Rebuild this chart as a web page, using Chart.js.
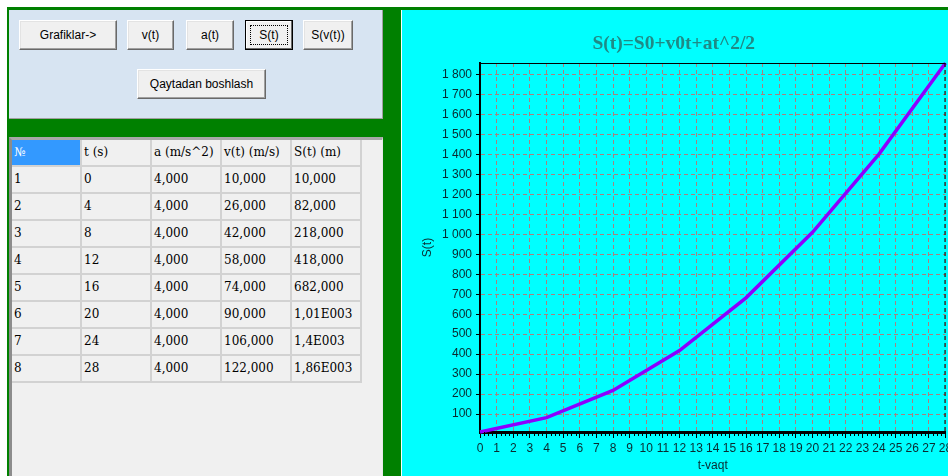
<!DOCTYPE html>
<html>
<head>
<meta charset="utf-8">
<script src="https://cdn.jsdelivr.net/npm/chart.js@4.4.1/dist/chart.umd.min.js"></script>
<style>
    html, body { margin: 0; padding: 0; }
    body {
        width: 948px; height: 476px; overflow: hidden; position: relative;
        background: #fff; font-family: "Liberation Sans", Arial, sans-serif;
    }
    .abs { position: absolute; box-sizing: border-box; }
    #frame { left: 7px; top: 7px; right: 0; bottom: 0; background: #008000; }
    #btnPanel {
        left: 9px; top: 10px; width: 374px; height: 109px; background: #d7e4f2;
        border-right: 1px solid #a0a0a0; border-bottom: 1px solid #a0a0a0;
    }
    .btn {
        position: absolute; box-sizing: border-box; background: #f0f0f0;
        border: 1px solid; border-color: #fff #696969 #696969 #fff;
        box-shadow: inset -1px -1px #a0a0a0, inset 1px 1px #e3e3e3;
        font-size: 12px; color: #000;
        display: flex; align-items: center; justify-content: center;
    }
    .btn.down { border: 1px solid #000; box-shadow: inset -1px -1px #696969, inset 1px 1px #fff; }
    .btn.down::after {
        content: ""; position: absolute; left: 4px; top: 4px; right: 4px; bottom: 4px;
        border: 1px dotted #000;
    }
    #tablePanel {
        left: 9px; top: 137px; width: 374px; height: 339px; background: #f0f0f0;
        border-left: 3px solid #8c8c8c; border-top: 3px solid #a8a8a8; border-right: 1px solid #e8e8e8;
    }
    #grid {
        left: 12px; top: 140px; display: grid;
        grid-template-columns: repeat(5, 68px); grid-auto-rows: 25px; gap: 2px;
        background: #d2d2d2; border-right: 2px solid #d2d2d2; border-bottom: 2px solid #d2d2d2;
    }
    #grid div {
        background: #f0f0f0; font-family: "DejaVu Serif", serif; font-size: 12px; color: #000;
        line-height: 25px; padding-left: 2px; white-space: nowrap; overflow: hidden;
    }
    #grid div.sel { background: #3399ff; color: #fff; }
    #chartLine { left: 401px; top: 10px; width: 1px; height: 466px; background: #fff; }
    #chartBox { left: 402px; top: 10px; width: 546px; height: 466px; background: #00ffff; }
</style>
</head>
<body>
<div class="abs" id="frame"></div>
<div class="abs" id="btnPanel"></div>
<div class="btn" style="left:19px;top:20px;width:98px;height:30px;">Grafiklar-&gt;</div>
<div class="btn" style="left:127px;top:20px;width:47px;height:30px;">v(t)</div>
<div class="btn" style="left:186px;top:20px;width:48px;height:30px;">a(t)</div>
<div class="btn down" style="left:245px;top:20px;width:48px;height:30px;">S(t)</div>
<div class="btn" style="left:303px;top:20px;width:50px;height:30px;">S(v(t))</div>
<div class="btn" style="left:137px;top:69px;width:129px;height:30px;">Qaytadan boshlash</div>

<div class="abs" id="tablePanel"></div>
<div class="abs" id="grid"></div>

<div class="abs" id="chartLine"></div>
<div class="abs" id="chartBox"><canvas id="sChart" width="546" height="466"></canvas></div>

<script>
// Table / chart data
const headers = ['№', 't (s)', 'a (m/s^2)', 'v(t) (m/s)', 'S(t) (m)'];
const tValues = [0, 4, 8, 12, 16, 20, 24, 28];
const aValues = [4, 4, 4, 4, 4, 4, 4, 4];
const vValues = [10, 26, 42, 58, 74, 90, 106, 122];
const sValues = [10, 82, 218, 418, 682, 1010, 1402, 1858];

// number text like in the grid: 10,000 / 1,01E003
const fmt = (x) => {
    if (Math.abs(x) >= 1000) {
        let m = (x / 1000).toPrecision(3).replace(/\.?0+$/, '');
        return m.replace('.', ',') + 'E003';
    }
    return x.toFixed(3).replace('.', ',');
};

const grid = document.getElementById('grid');
const addCell = (text, cls) => {
    const c = document.createElement('div');
    if (cls) c.className = cls;
    c.textContent = text;
    grid.appendChild(c);
};
headers.forEach((h, i) => addCell(h, i === 0 ? 'sel' : ''));
tValues.forEach((t, i) => {
    addCell(String(i + 1));
    addCell(String(t));
    addCell(fmt(aValues[i]));
    addCell(fmt(vValues[i]));
    addCell(fmt(sValues[i]));
});

// Chart
const labelColor = '#0a2a30';
const gridColor = '#a88080';

const frameLines = {
    id: 'frameLines',
    afterDraw: (chart) => {
        const ctx = chart.ctx;
        const a = chart.chartArea;
        const x = chart.scales.x;
        ctx.save();
        ctx.strokeStyle = '#000';
        ctx.lineWidth = 1;
        ctx.beginPath();
        ctx.moveTo(a.left, a.top + 0.5);
        ctx.lineTo(a.right, a.top + 0.5);
        ctx.stroke();
        ctx.setLineDash([4, 3]);
        ctx.beginPath();
        ctx.moveTo(a.right - 0.5, a.top);
        ctx.lineTo(a.right - 0.5, a.bottom);
        ctx.stroke();
        ctx.setLineDash([]);
        // minor ticks under the bottom axis
        for (let v = 0; v < x.max; v += 0.25) {
            if (v % 1 === 0) continue;
            const px = Math.round(x.getPixelForValue(v)) + 0.5;
            ctx.beginPath();
            ctx.moveTo(px, a.bottom);
            ctx.lineTo(px, a.bottom + 4);
            ctx.stroke();
        }
        ctx.restore();
    }
};

new Chart(document.getElementById('sChart'), {
    type: 'line',
    data: {
        datasets: [{
            label: 'S(t)',
            data: tValues.map((t, i) => ({ x: t, y: sValues[i] })),
            borderColor: '#8c00ff',
            borderWidth: 3.5,
            pointRadius: 0,
            tension: 0,
            fill: false,
            clip: 4
        }]
    },
    options: {
        responsive: false,
        animation: false,
        layout: { padding: { left: 0, right: 2.5, top: 0, bottom: 0 } },
        plugins: {
            legend: { display: false },
            tooltip: { enabled: false },
            title: {
                display: true,
                text: 'S(t)=S0+v0t+at^2/2',
                color: '#1f8a86',
                font: { family: 'Liberation Serif', size: 19.5, weight: 'bold' },
                padding: { top: 22, bottom: 7.6 }
            }
        },
        scales: {
            x: {
                type: 'linear',
                min: 0,
                max: 28,
                ticks: {
                    stepSize: 1, autoSkip: false, maxRotation: 0, minRotation: 0,
                    color: labelColor, padding: 3,
                    font: { family: 'Liberation Sans', size: 12 }
                },
                grid: { color: gridColor, lineWidth: 1, tickLength: 6, tickColor: '#000', tickBorderDash: [] },
                border: { color: '#000', width: 3, dash: [4, 3] },
                title: {
                    display: true, text: 't-vaqt', color: labelColor,
                    font: { family: 'Liberation Sans', size: 12 },
                    padding: { top: 0, bottom: 3 }
                },
                afterFit: (s) => { s.height = 44; s.paddingLeft = 0; s.paddingRight = 0; }
            },
            y: {
                type: 'linear',
                min: 10,
                max: 1858,
                ticks: {
                    stepSize: 100, includeBounds: false, color: labelColor, padding: 4,
                    font: { family: 'Liberation Sans', size: 12 },
                    callback: (v) => String(v).replace(/\B(?=(\d{3})+(?!\d))/g, ' ')
                },
                grid: { color: gridColor, lineWidth: 1, tickLength: 4, tickColor: '#000', tickBorderDash: [] },
                border: { color: '#000', width: 2, dash: [4, 3] },
                title: {
                    display: true, text: 'S(t)', color: labelColor,
                    font: { family: 'Liberation Sans', size: 12 },
                    padding: { top: 18, bottom: 0 }
                },
                afterFit: (s) => { s.width = 78; s.paddingTop = 0; s.paddingBottom = 0; }
            }
        }
    },
    plugins: [frameLines]
});
</script>
</body>
</html>
